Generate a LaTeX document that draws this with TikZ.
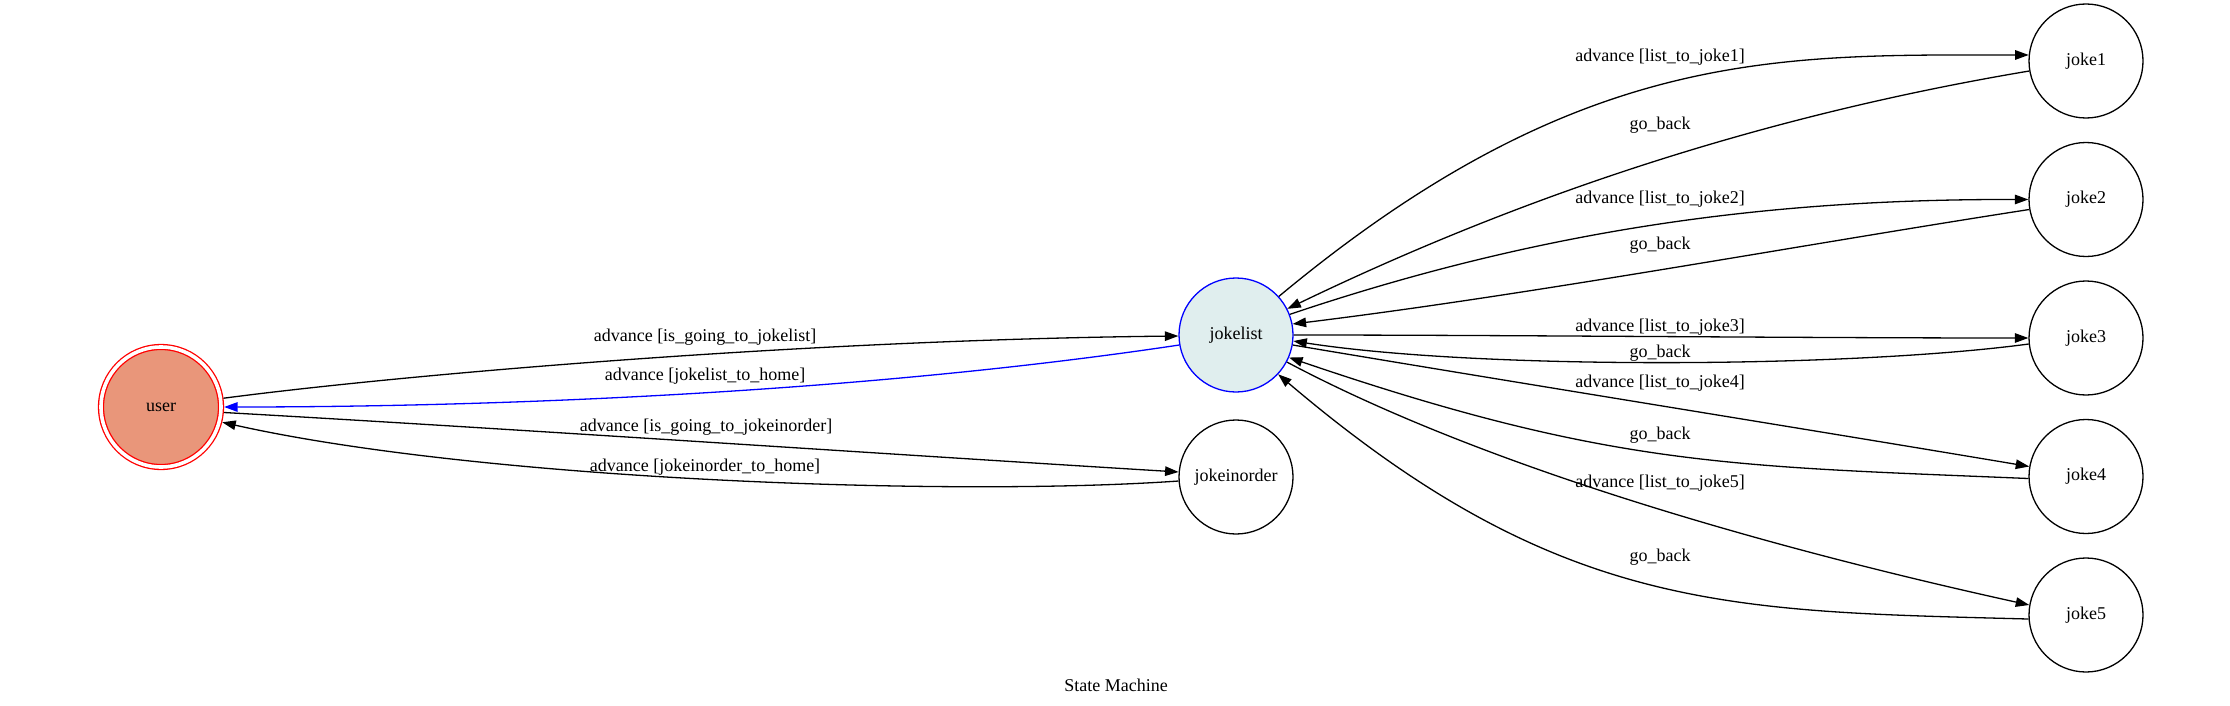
\documentclass[tikz,border=0pt]{standalone}
\usepackage{fontspec}
\setmainfont{Liberation Serif}
\usetikzlibrary{arrows.meta}
\definecolor{usersalmon}{RGB}{233,150,122}
\definecolor{listcyan}{RGB}{224,238,238}

\begin{document}
\begin{tikzpicture}[x=1pt, y=-1pt, line width=1.3pt, font=\fontsize{18}{21}\selectfont,
    state/.style={circle, draw, minimum size=114pt, inner sep=0pt},
    trans/.style={-{Triangle[length=13.5pt, width=9.5pt]}},
    lbl/.style={inner sep=0pt}]
    \useasboundingbox (0,0) rectangle (2230,706);
    \node[state, minimum size=120pt, draw=red, fill=usersalmon, double=white, double distance=3.6pt, outer sep=3.1pt] (user) at (161,407) {user};
    \node[state, draw=blue, fill=listcyan] (jokelist) at (1236,335) {jokelist};
    \node[state] (jokeinorder) at (1236,477) {jokeinorder};
    \node[state] (joke1) at (2086,61) {joke1};
    \node[state] (joke2) at (2086,199.5) {joke2};
    \node[state] (joke3) at (2086,338) {joke3};
    \node[state] (joke4) at (2086,476.5) {joke4};
    \node[state] (joke5) at (2086,615) {joke5};

    \draw[trans] (user.8) .. controls (400,375) and (800,340) .. (jokelist.181);
    \draw[trans, blue] (jokelist.190) .. controls (880,390) and (524,407) .. (user.0);
    \draw[trans] (user.-5.5) .. controls (500,428) and (900,455) .. (jokeinorder.175);
    \draw[trans] (jokeinorder.184) .. controls (950,497) and (480,480) .. (user.-14);
    \node[lbl] (tolist) at (705,337) {advance [is\_going\_to\_jokelist]};
    \node[lbl] (listhome) at (705,376) {advance [jokelist\_to\_home]};
    \node[lbl] (toorder) at (706,427) {advance [is\_going\_to\_jokeinorder]};
    \node[lbl] (orderhome) at (705,467) {advance [jokeinorder\_to\_home]};

    \draw[trans] (jokelist.42) .. controls (1580,46) and (1779,55) .. (joke1.174);
    \draw[trans] (joke1.190) .. controls (1779,113) and (1538,188) .. (jokelist.27);
    \draw[trans] (jokelist.21) .. controls (1552,226) and (1779,199) .. (joke2.180);
    \draw[trans] (joke2.190) .. controls (1800,245) and (1530,295) .. (jokelist.11);
    \draw[trans] (jokelist.0) .. controls (1500,335) and (1800,338) .. (joke3.180);
    \draw[trans] (joke3.186) .. controls (1850,368) and (1480,370) .. (jokelist.-6);
    \draw[trans] (jokelist.-10) .. controls (1500,380) and (1800,428) .. (joke4.170);
    \draw[trans] (joke4.182) .. controls (1729,466) and (1610,467) .. (jokelist.-23);
    \draw[trans] (jokelist.-28) .. controls (1488,469) and (1779,550) .. (joke5.170);
    \draw[trans] (joke5.184) .. controls (1729,611) and (1559,613) .. (jokelist.-43);
    \node[lbl] (adv1) at (1660,57) {advance [list\_to\_joke1]};
    \node[lbl] (back1) at (1660,125) {go\_back};
    \node[lbl] (adv2) at (1660,199) {advance [list\_to\_joke2]};
    \node[lbl] (back2) at (1660,245) {go\_back};
    \node[lbl] (adv3) at (1660,327) {advance [list\_to\_joke3]};
    \node[lbl] (back3) at (1660,353) {go\_back};
    \node[lbl] (adv4) at (1660,383) {advance [list\_to\_joke4]};
    \node[lbl] (back4) at (1660,435) {go\_back};
    \node[lbl] (adv5) at (1660,483) {advance [list\_to\_joke5]};
    \node[lbl] (back5) at (1660,557) {go\_back};

    \node[lbl] (title) at (1116,685) {State Machine};
\end{tikzpicture}
\end{document}
